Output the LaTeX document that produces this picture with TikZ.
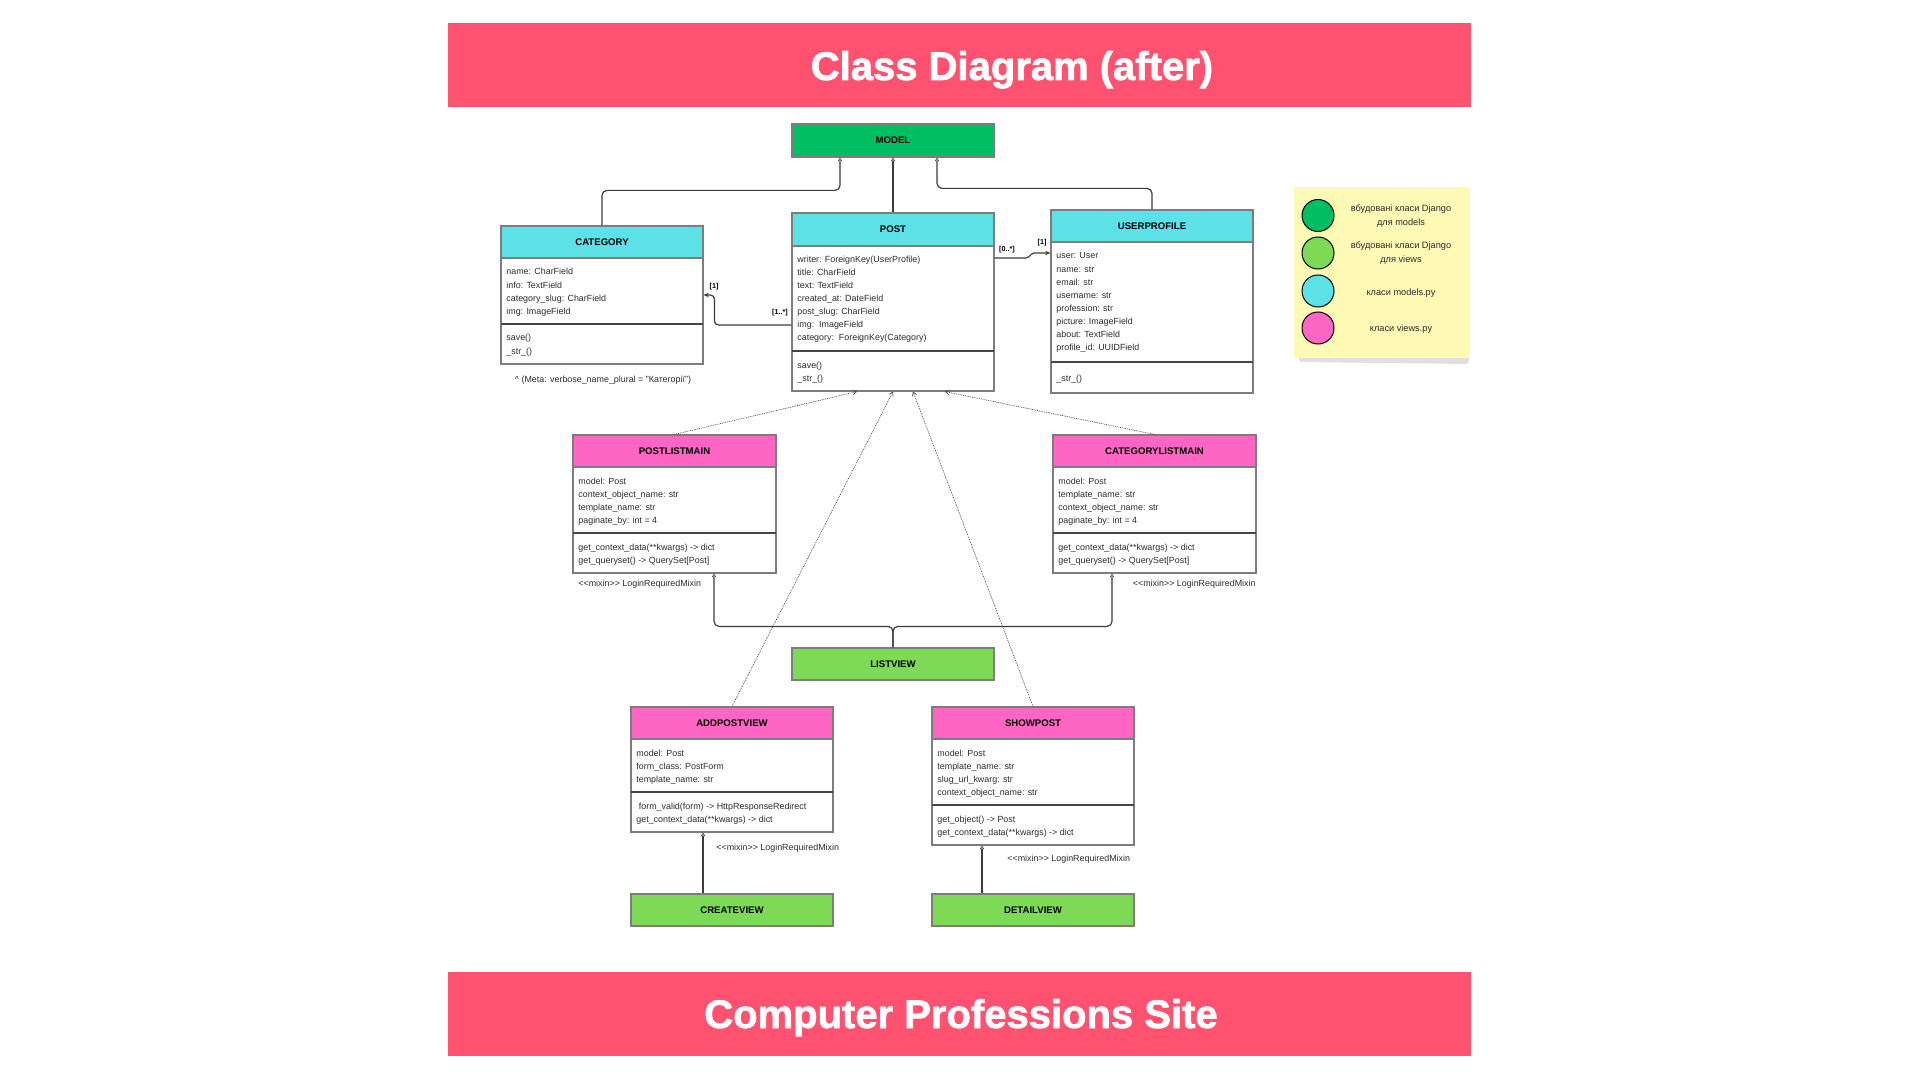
\documentclass[tikz,border=0pt]{standalone}
\usepackage{fontspec}
\setmainfont{Liberation Sans}
\newfontfamily\heavyfamily[FakeBold=1.6]{Liberation Sans}
\usetikzlibrary{fit,arrows.meta,calc}

\definecolor{banner}{RGB}{255,82,112}
\definecolor{djmodel}{RGB}{0,191,99}
\definecolor{djview}{RGB}{126,217,87}
\definecolor{pymodel}{RGB}{92,225,230}
\definecolor{pyview}{RGB}{255,102,196}
\definecolor{note}{RGB}{254,249,181}
\definecolor{boxline}{RGB}{125,125,125}
\definecolor{rulecol}{RGB}{70,70,70}
\definecolor{wire}{RGB}{60,60,60}
\definecolor{txt}{RGB}{45,45,45}

\newcommand\memberfont{\fontsize{4.45}{5}\selectfont}
\newcommand\headfont{\fontsize{4.8}{5}\selectfont\bfseries}
\newcommand\tagfont{\fontsize{3.6}{4}\selectfont\bfseries}
\newcommand\bannerfont{\heavyfamily\fontsize{20}{22}\selectfont\bfseries}
\newcommand\notefont{\fontsize{4.6}{7}\selectfont}

\tikzset{
  frame/.style={draw=boxline, line width=0.6pt, fill=white, inner sep=0pt},
  head/.style={draw=boxline, line width=0.6pt, inner sep=0pt},
  headtext/.style={inner sep=0pt, font=\headfont},
  divider/.style={draw=rulecol, line width=0.6pt},
  member/.style={inner sep=0pt, anchor=base west, font=\memberfont, text=txt},
  tag/.style={inner sep=0pt, font=\tagfont},
  gen/.style={draw=wire, line width=0.6pt, rounded corners=2.5pt,
    -{Triangle[open, length=1.8pt, width=2.2pt, line width=0.3pt, fill=white]}},
  assoc/.style={draw=wire, line width=0.6pt, rounded corners=2pt,
    -{Stealth[length=2.6pt, width=2.2pt]}},
  dep/.style={draw=wire, line width=0.3pt, dash pattern=on 0.45pt off 0.45pt,
    -{Straight Barb[length=1.8pt, width=2.2pt]}},
  legdot/.style={circle, draw=black, line width=0.5pt, minimum size=16pt, inner sep=0pt},
  legtext/.style={inner sep=0pt, font=\notefont, text=txt, align=center},
}

% class box: name, x1, y1, x2, y2, header bottom, divider, colour, title
\newcommand\umlclass[9]{%
  \node[frame, fit={(#2,#3) (#4,#5)}] (#1) {};
  \node[head, fill=#8, fit={(#2,#3) (#4,#6)}] (#1-head) {};
  \node[headtext] (#1-title) at (#1-head.center) {#9};
  \draw[divider] (#2,#7) -- (#4,#7);}

% plain box: name, x1, y1, x2, y2, colour, title
\newcommand\plainbox[7]{%
  \node[head, fill=#6, fit={(#2,#3) (#4,#5)}] (#1) {};
  \node[headtext] (#1-title) at (#1.center) {#7};}

% member lines: name prefix, x, first baseline, step, list
\newcommand\members[5]{%
  \foreach \mline [count=\i from 0] in {#5}
    \node[member] (#1-\i) at (#2,{#3+#4*\i}) {\mline};}

\newcommand\mixin{<\kern0pt<mixin>\kern0pt> LoginRequiredMixin}

\begin{document}
\begin{tikzpicture}[x=0.5pt,y=-0.5pt]
\fill[white] (0,0) rectangle (1920,1080);
\useasboundingbox (0,0) rectangle (1920,1080);

% banners
\node[fill=banner, inner sep=0pt, fit={(448,23) (1471,107)}] (topbar) {};
\node[anchor=base, inner sep=0pt, text=white, font=\bannerfont] (title) at (1012,80) {Class Diagram (after)};
\node[fill=banner, inner sep=0pt, fit={(448,972) (1471,1056)}] (bottombar) {};
\node[anchor=base, inner sep=0pt, text=white, font=\bannerfont] (subtitle) at (961,1028) {Computer Professions Site};

% legend note
\fill[black!12] (1297,354) -- (1470,354) -- (1468,364) -- (1300,362) -- cycle;
\node[fill=note, inner sep=0pt, fit={(1294,187) (1470,358)}] (legend) {};
\node[legdot, fill=djmodel] (leg-dot1) at (1318,215.5) {};
\node[legdot, fill=djview]  (leg-dot2) at (1318,253) {};
\node[legdot, fill=pymodel] (leg-dot3) at (1318,291) {};
\node[legdot, fill=pyview]  (leg-dot4) at (1318,328) {};
\node[legtext] (leg-text1) at (1401,216) {вбудовані класи Django\\для models};
\node[legtext] (leg-text2) at (1401,253.5) {вбудовані класи Django\\для views};
\node[legtext] (leg-text3) at (1401,293) {класи models.py};
\node[legtext] (leg-text4) at (1401,329.5) {класи views.py};

% built-in base classes
\plainbox{model}{792}{124}{994}{157}{djmodel}{MODEL}
\plainbox{listview}{792}{648}{994}{680}{djview}{LISTVIEW}
\plainbox{createview}{631}{894}{833}{926}{djview}{CREATEVIEW}
\plainbox{detailview}{932}{894}{1134}{926}{djview}{DETAILVIEW}

% models.py
\umlclass{category}{501}{226}{703}{364}{258}{324}{pymodel}{CATEGORY}
\members{category-a}{506}{275}{13.2}{{name: CharField},{info: TextField},{category\_slug: CharField},{img: ImageField}}
\members{category-m}{506}{341}{13.2}{{save()},{\_str\_()}}
\node[member, anchor=base] (category-meta) at (603,382) {\textasciicircum\ (Meta: verbose\_name\_plural = "Категорії")};

\umlclass{post}{792}{213}{994}{391}{246}{351}{pymodel}{POST}
\members{post-a}{797}{263}{13}{{writer: ForeignKey(UserProfile)},{title: CharField},{text: TextField},{created\_at: DateField},{post\_slug: CharField},{img:\ \ ImageField},{category:\ \ ForeignKey(Category)}}
\members{post-m}{797}{368}{13.2}{{save()},{\_str\_()}}

\umlclass{userprofile}{1051}{210}{1253}{393}{242}{362}{pymodel}{USERPROFILE}
\members{userprofile-a}{1056}{259}{13.1}{{user: User},{name: str},{email: str},{username: str},{profession: str},{picture: ImageField},{about: TextField},{profile\_id: UUIDField}}
\members{userprofile-m}{1056}{381}{13}{{\_str\_()}}

% views.py
\umlclass{postlist}{573}{435}{776}{573}{467}{533}{pyview}{POSTLISTMAIN}
\members{postlist-a}{578}{484}{13.2}{{model: Post},{context\_object\_name: str},{template\_name: str},{paginate\_by: int = 4}}
\members{postlist-m}{578}{550}{13.3}{{get\_context\_data(**kwargs) -> dict},{get\_queryset() -> QuerySet[Post]}}
\node[member] (postlist-mixin) at (578,586) {\mixin};

\umlclass{catlist}{1053}{435}{1256}{573}{467}{533}{pyview}{CATEGORYLISTMAIN}
\members{catlist-a}{1058}{484}{13.2}{{model: Post},{template\_name: str},{context\_object\_name: str},{paginate\_by: int = 4}}
\members{catlist-m}{1058}{550}{13.3}{{get\_context\_data(**kwargs) -> dict},{get\_queryset() -> QuerySet[Post]}}
\node[member, anchor=base east] (catlist-mixin) at (1256,586) {\mixin};

\umlclass{addpost}{631}{707}{833}{832}{739}{792}{pyview}{ADDPOSTVIEW}
\members{addpost-a}{636}{756}{13.2}{{model: Post},{form\_class: PostForm},{template\_name: str}}
\members{addpost-m}{636}{809}{13.2}{{\ form\_valid(form) -> HttpResponseRedirect},{get\_context\_data(**kwargs) -> dict}}
\node[member] (addpost-mixin) at (716,850) {\mixin};

\umlclass{showpost}{932}{707}{1134}{845}{739}{805}{pyview}{SHOWPOST}
\members{showpost-a}{937}{756}{13.2}{{model: Post},{template\_name: str},{slug\_url\_kwarg: str},{context\_object\_name: str}}
\members{showpost-m}{937}{822}{13.2}{{get\_object() -> Post},{get\_context\_data(**kwargs) -> dict}}
\node[member] (showpost-mixin) at (1007,861) {\mixin};

% inheritance from Model
\draw[gen] (category.north) -- ++(0,-35) -| ([xshift=-26.5pt]model.south);
\draw[gen] (post.north) -- (model.south);
\draw[gen] (userprofile.north) -- ++(0,-21) -| ([xshift=22pt]model.south);

% associations
\draw[assoc, rounded corners=0.8pt] ([yshift=22pt]post.east) -- ++(33,0) -- ++(5,-5) -- ([yshift=24.25pt]userprofile.west);
\node[tag] (post-many) at (1007,250) {[0..*]};
\node[tag] (user-one) at (1042,243) {[1]};
\draw[assoc] ([yshift=-11.5pt]post.west) -- ++(-77,0) |- (category.east);
\node[tag] (post-many2) at (780,313) {[1..*]};
\node[tag] (cat-one) at (714,287) {[1]};

% views depend on Post
\draw[dep] (postlist.north) -- ([xshift=-18pt]post.south);
\draw[dep] (catlist.north) -- ([xshift=26pt]post.south);
\draw[dep] (addpost.north) -- (post.south);
\draw[dep] (showpost.north) -- ([xshift=10pt]post.south);

% inheritance from generic views
\draw[gen] (listview.north) -- ++(0,-21) -| ([xshift=19.75pt]postlist.south);
\draw[gen] (listview.north) -- ++(0,-21) -| ([xshift=-21.25pt]catlist.south);
\draw[gen] ([xshift=-14.5pt]createview.north) -- ([xshift=-14.5pt]addpost.south);
\draw[gen] ([xshift=-25.5pt]detailview.north) -- ([xshift=-25.5pt]showpost.south);
\end{tikzpicture}
\end{document}
